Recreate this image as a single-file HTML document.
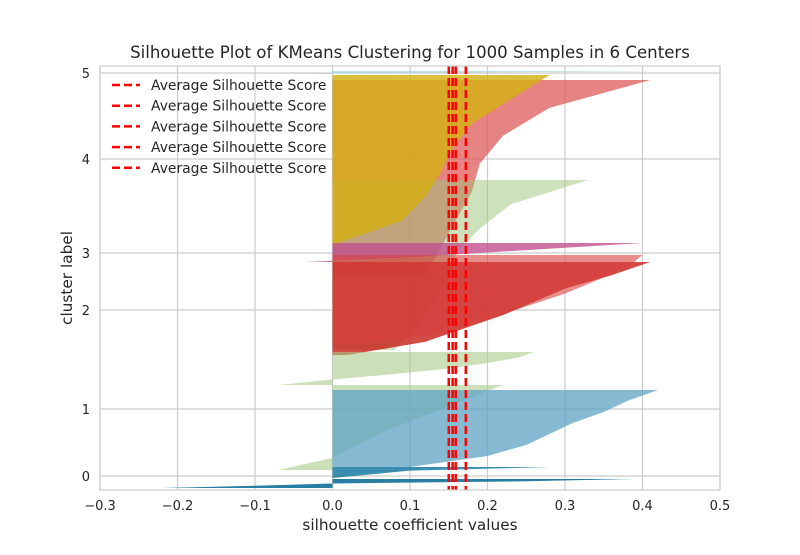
<!DOCTYPE html>
<html><head><meta charset="utf-8"><style>
body{margin:0;background:#fff}
svg text{font-family:"DejaVu Sans","Liberation Sans",sans-serif;fill:#262626}
</style></head><body>
<svg id="chart" width="800" height="550" xmlns="http://www.w3.org/2000/svg">
<rect width="800" height="550" fill="#fff"/>
<g id="grid"></g>
<g id="bands"></g>
<g id="avg"></g>
<rect x="100" y="66" width="620" height="424" fill="none" stroke="#cccccc" stroke-width="1.2"/>
<g id="ticks"></g>
<text x="410" y="58" text-anchor="middle" font-size="16.6">Silhouette Plot of KMeans Clustering for 1000 Samples in 6 Centers</text>
<text x="410" y="530" text-anchor="middle" font-size="15.3">silhouette coefficient values</text>
<text transform="translate(72,278) rotate(-90)" text-anchor="middle" font-size="15.3">cluster label</text>
<g id="legend"></g>
</svg>
<script>
const xTicks=[-0.3,-0.2,-0.1,0.0,0.1,0.2,0.3,0.4,0.5];
const yTickLabels=["0","1","2","3","4","5"];
const yTickPos=[28,162,360,474,662,834];
const avgScores=[0.150,0.155,0.159,0.172];
const bandColors=["#dd5a5a","#9cc47a","#d4b012","#c0508f","#c81e16","#d84040","#a8c98a","#a8c98a","#5ea3c4","#1a7aa3","#12709a","#a8d4e0"];
const bandAlpha=[0.75,0.5,0.82,0.8,0.8,0.6,0.6,0.6,0.75,0.85,0.9,0.8];
const bandY0=[430,280,490,456,270,290,210,40,46,24,4,832];
const bandY1=[820,620,830,494,456,470,276,210,200,46,22,838];
const band0=[0.12,0.14,0.16,0.18,0.19,0.22,0.28,0.41];
const band1=[0.08,0.11,0.13,0.15,0.16,0.19,0.23,0.33];
const band2=[0,0.09,0.12,0.14,0.155,0.18,0.23,0.28];
const band3=[-0.035,0.1,0.2,0.3,0.4];
const band4=[0.02,0.12,0.17,0.22,0.26,0.3,0.36,0.41];
const band5=[0.03,0.15,0.2,0.25,0.3,0.34,0.38,0.4];
const band6=[-0.07,0.0,0.08,0.15,0.2,0.24,0.26];
const band7=[-0.07,0.0,0.03,0.06,0.1,0.14,0.18,0.22];
const band8=[0.1,0.2,0.25,0.28,0.31,0.35,0.38,0.42];
const band9=[0,0.05,0.1,0.28];
const band10=[-0.22,-0.1,0.0,0.25,0.39];
const band11=[-0.1,0.44];
const bandValues=[band0,band1,band2,band3,band4,band5,band6,band7,band8,band9,band10,band11];
const NS="http://www.w3.org/2000/svg";
const X0=100,X1=720,Y0=490,Y1=66;
function xs(v){return X0+(v+0.3)/0.8*(X1-X0);}
function ys(u){return Y0-u*(Y0-Y1)/848;}
function mk(t,a,p){const e=document.createElementNS(NS,t);for(const k in a)e.setAttribute(k,a[k]);p.appendChild(e);return e;}
const grid=document.getElementById('grid'),ticks=document.getElementById('ticks');
xTicks.forEach(v=>{
 const l=mk('line',{x1:xs(v),x2:xs(v),y1:Y1,y2:Y0,stroke:'#cccccc','stroke-width':1.2},grid);
 
 
 const t=mk('text',{x:xs(v),y:Y0+20,'text-anchor':'middle','font-size':13},ticks);
 
 
 t.textContent=(v<0?'\u2212':'')+Math.abs(v).toFixed(1);
});
yTickPos.forEach((u,i)=>{
 const l=mk('line',{x1:X0,x2:X1,y1:ys(u),y2:ys(u),stroke:'#cccccc','stroke-width':1.2},grid);
 
 
 const t=mk('text',{x:X0-10,y:ys(u)+5,'text-anchor':'end','font-size':13},ticks);
 
 
 t.textContent=yTickLabels[i];
});
const bands=document.getElementById('bands');
bandValues.forEach((vals,i)=>{
 const n=vals.length,y0=bandY0[i],y1=bandY1[i];
 let pts=[xs(0)+','+ys(y0)];
 vals.forEach((v,j)=>{const u=n>1?y0+(y1-y0)*j/(n-1):y0;pts.push(xs(v)+','+ys(u));});
 pts.push(xs(0)+','+ys(y1));
 const p=mk('polygon',{points:pts.join(' '),fill:bandColors[i],'fill-opacity':bandAlpha[i]},bands);
 
 
});
const avg=document.getElementById('avg');
avgScores.forEach(v=>{
 const l=mk('line',{x1:xs(v),x2:xs(v),y1:Y1,y2:Y0,stroke:'#ff0000','stroke-width':2.5,'stroke-dasharray':'8,4'},avg);
 
 
});
const lg=document.getElementById('legend');
for(let i=0;i<5;i++){
 const y=85+i*20.7;
 const l=mk('line',{x1:112,x2:140,y1:y,y2:y,stroke:'#ff0000','stroke-width':2.5,'stroke-dasharray':'8,4'},lg);
 
 
 const t=mk('text',{x:151,y:y+5,'font-size':13.9},lg);
 
 
 t.textContent='Average Silhouette Score';
}
</script>
</body></html>
